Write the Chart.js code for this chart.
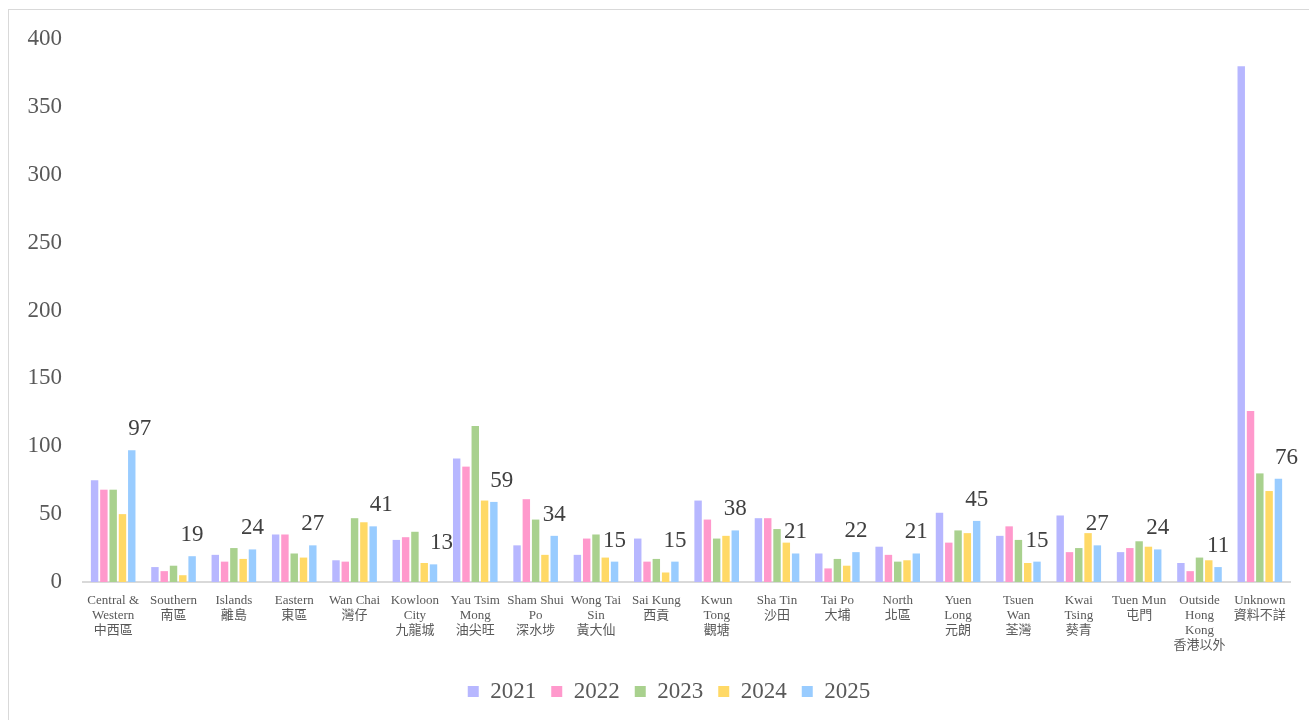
<!DOCTYPE html>
<html>
<head>
<meta charset="utf-8">
<script src="https://cdn.jsdelivr.net/npm/chart.js@4/dist/chart.umd.min.js"></script>
<style>
    html, body { margin: 0; padding: 0; background: #fff; overflow: hidden; }
    #frame {
        position: absolute;
        left: 8px;
        top: 9px;
        width: 1320px;
        height: 720px;
        border: 1px solid #d9d9d9;
    }
    #chart { display: block; }
</style>
</head>
<body>
<div id="frame">
    <canvas id="chart" width="1320" height="720"></canvas>
</div>
<script>
// District labels (English + Chinese, split into lines)
const districts = [
    ['Central &', 'Western', '中西區'],
    ['Southern', '南區'],
    ['Islands', '離島'],
    ['Eastern', '東區'],
    ['Wan Chai', '灣仔'],
    ['Kowloon', 'City', '九龍城'],
    ['Yau Tsim', 'Mong', '油尖旺'],
    ['Sham Shui', 'Po', '深水埗'],
    ['Wong Tai', 'Sin', '黃大仙'],
    ['Sai Kung', '西貢'],
    ['Kwun', 'Tong', '觀塘'],
    ['Sha Tin', '沙田'],
    ['Tai Po', '大埔'],
    ['North', '北區'],
    ['Yuen', 'Long', '元朗'],
    ['Tsuen', 'Wan', '荃灣'],
    ['Kwai', 'Tsing', '葵青'],
    ['Tuen Mun', '屯門'],
    ['Outside', 'Hong', 'Kong', '香港以外'],
    ['Unknown', '資料不詳']
];

const years = ['2021', '2022', '2023', '2024', '2025'];

const counts2021 = [75, 11, 20, 35, 16, 31, 91, 27, 20, 32, 60, 47, 21, 26, 51, 34, 49, 22, 14, 380];
const counts2022 = [68, 8, 15, 35, 15, 33, 85, 61, 32, 15, 46, 47, 10, 20, 29, 41, 22, 25, 8, 126];
const counts2023 = [68, 12, 25, 21, 47, 37, 115, 46, 35, 17, 32, 39, 17, 15, 38, 31, 25, 30, 18, 80];
const counts2024 = [50, 5, 17, 18, 44, 14, 60, 20, 18, 7, 34, 29, 12, 16, 36, 14, 36, 26, 16, 67];
const counts2025 = [97, 19, 24, 27, 41, 13, 59, 34, 15, 15, 38, 21, 22, 21, 45, 15, 27, 24, 11, 76];

const yTicks = [0, 50, 100, 150, 200, 250, 300, 350, 400];

const seriesColors = ['#b7b7ff', '#ff99cc', '#a9d18e', '#ffd966', '#99ccff'];

const serif = "'Liberation Serif', 'Times New Roman', 'Noto Sans CJK TC', serif";

// value labels above the latest year's bars
const valueLabels = {
    id: 'valueLabels',
    afterDatasetsDraw(chart, args, opts) {
        const ctx = chart.ctx;
        const meta = chart.getDatasetMeta(opts.datasetIndex);
        const data = chart.data.datasets[opts.datasetIndex].data;
        ctx.save();
        ctx.font = opts.font;
        ctx.fillStyle = opts.color;
        ctx.textAlign = 'center';
        ctx.textBaseline = 'alphabetic';
        meta.data.forEach((bar, i) => {
            const dx = opts.shifted.includes(i) ? 8 : 0;
            ctx.fillText(String(data[i]), bar.x + dx, bar.y - 15);
        });
        ctx.restore();
    }
};

const allSeries = [counts2021, counts2022, counts2023, counts2024, counts2025];

new Chart(document.getElementById('chart'), {
    type: 'bar',
    data: {
        labels: districts,
        datasets: years.map((y, i) => ({
            label: y,
            data: allSeries[i],
            backgroundColor: seriesColors[i],
            borderWidth: 0,
            barPercentage: 0.8,
            categoryPercentage: 0.77
        }))
    },
    plugins: [valueLabels],
    options: {
        responsive: false,
        animation: false,
        devicePixelRatio: 1,
        layout: {
            padding: { left: 0, right: 0, top: 29, bottom: 17 }
        },
        scales: {
            x: {
                grid: { display: false },
                border: { display: true, color: '#d9d9d9', width: 2 },
                ticks: {
                    autoSkip: false,
                    maxRotation: 0,
                    minRotation: 0,
                    padding: 3,
                    color: '#595959',
                    font: { family: serif, size: 13, lineHeight: 1.15 }
                },
                afterFit(scale) { scale.height = 83; }
            },
            y: {
                min: 0,
                max: 400,
                grid: { display: false, drawTicks: false },
                border: { display: false },
                afterBuildTicks(scale) {
                    scale.ticks = yTicks.map(v => ({ value: v }));
                },
                ticks: {
                    padding: 21,
                    color: '#595959',
                    font: { family: serif, size: 23 }
                },
                afterFit(scale) {
                    scale.width = 74;
                    scale.paddingTop = 0;
                    scale.paddingBottom = 0;
                }
            },
            // empty right margin so the plot ends before the frame edge
            yRight: {
                position: 'right',
                min: 0,
                max: 400,
                grid: { display: false, drawTicks: false },
                border: { display: false },
                ticks: { display: false },
                afterFit(scale) { scale.width = 39; }
            }
        },
        plugins: {
            legend: {
                position: 'bottom',
                labels: {
                    boxWidth: 11,
                    boxHeight: 11,
                    padding: 15,
                    color: '#595959',
                    font: { family: serif, size: 23 }
                }
            },
            tooltip: { enabled: false },
            valueLabels: {
                datasetIndex: 4,
                font: "23px 'Liberation Serif', 'Times New Roman', serif",
                color: '#404040',
                shifted: [0, 4, 5, 6, 19]
            }
        }
    }
});
</script>
</body>
</html>
